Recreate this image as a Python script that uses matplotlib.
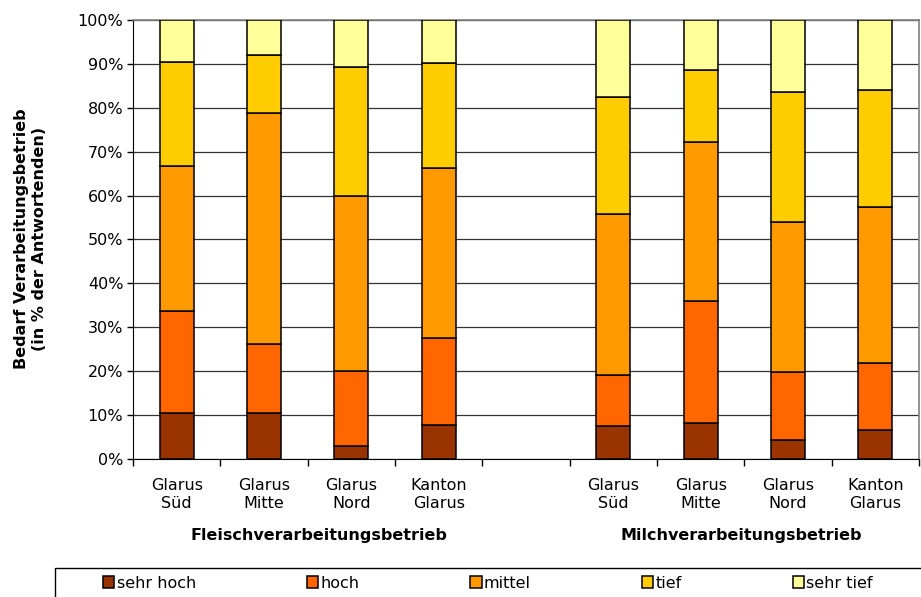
import numpy as np
import matplotlib
matplotlib.use("Agg")
import matplotlib.pyplot as plt
from matplotlib.patches import Rectangle

# Kategorien (leere Mitte trennt die zwei Gruppen)
kategorien = ["Glarus\nSüd", "Glarus\nMitte", "Glarus\nNord", "Kanton\nGlarus", "",
              "Glarus\nSüd", "Glarus\nMitte", "Glarus\nNord", "Kanton\nGlarus"]
gruppen = ["Fleischverarbeitungsbetrieb", "Milchverarbeitungsbetrieb"]

# Anteile in %
sehr_hoch = [10.5, 10.5, 3.0, 7.8, np.nan, 7.5, 8.1, 4.4, 6.5]
hoch      = [23.2, 15.8, 17.1, 19.8, np.nan, 11.6, 28.0, 15.4, 15.3]
mittel    = [33.1, 52.5, 39.9, 38.6, np.nan, 36.8, 36.2, 34.2, 35.5]
tief      = [23.6, 13.3, 29.3, 23.9, np.nan, 26.6, 16.4, 29.5, 26.7]
sehr_tief = [9.6, 7.9, 10.7, 9.9, np.nan, 17.5, 11.3, 16.5, 16.0]

serien = ["sehr hoch", "hoch", "mittel", "tief", "sehr tief"]
farben = ["#993300", "#FF6600", "#FF9900", "#FFCC00", "#FFFF99"]

plt.rcParams['font.family'] = ['DejaVu Sans']

fig = plt.figure(figsize=(9.21, 5.97), dpi=100)
ax = fig.add_axes([0.1444, 0.2312, 0.8534, 0.7353])

x = np.arange(len(kategorien))
gueltig = ~np.isnan(np.array(sehr_hoch, dtype=float))
unten = np.zeros(len(kategorien))
handles = []
for werte, name, farbe in zip([sehr_hoch, hoch, mittel, tief, sehr_tief], serien, farben):
    w = np.nan_to_num(np.array(werte, dtype=float))
    b = ax.bar(x[gueltig], w[gueltig], width=0.39, bottom=unten[gueltig], color=farbe,
               edgecolor="black", linewidth=1.1, label=name, zorder=3)
    handles.append(b)
    unten = unten + w

ax.set_xlim(-0.5, len(kategorien) - 0.5)
ax.set_ylim(0, 100)
ax.set_yticks(np.arange(0, 101, 10))
ax.set_yticklabels([f"{v}%" for v in range(0, 101, 10)], fontsize=11.5)
ax.yaxis.grid(True, color="#333333", linewidth=0.9, zorder=0)
ax.tick_params(axis="y", direction="out", length=4, width=1, pad=3)

ax.set_xticks(x)
ax.set_xticklabels(kategorien, fontsize=11.5, linespacing=1.25)
ax.tick_params(axis="x", which="major", length=0, pad=14)
ax.set_xticks(np.arange(-0.5, len(kategorien)), minor=True)
ax.tick_params(axis="x", which="minor", direction="out", length=5, width=1, color="black")

for s in ["top", "right"]:
    ax.spines[s].set_color("#808080")
    ax.spines[s].set_linewidth(1.2)
ax.spines["left"].set_color("black")
ax.spines["bottom"].set_color("black")

# Gruppenbeschriftung
ax.text(1.63, -17.5, gruppen[0], ha="center", va="center", fontsize=11.5,
        fontweight="bold", clip_on=False)
ax.text(6.46, -17.5, gruppen[1], ha="center", va="center", fontsize=11.5,
        fontweight="bold", clip_on=False)

fig.text(0.033, 0.6, "Bedarf Verarbeitungsbetrieb\n(in % der Antwortenden)",
         rotation=90, ha="center", va="center", fontsize=11.5, fontweight="bold",
         multialignment="center", linespacing=1.3)

# Legendenrahmen (läuft rechts und unten aus dem Bild)
fig.patches.append(Rectangle((55 / 921, -0.05), 0.98, 1 - 568 / 597 + 0.05,
                             transform=fig.transFigure, facecolor="white",
                             edgecolor="black", linewidth=1.0, zorder=1))
leg = fig.legend(handles=handles, labels=serien, loc="center left",
                 bbox_to_anchor=(103 / 921, 1 - 583 / 597), ncol=5, fontsize=11.5,
                 frameon=False, handlelength=0.7, handleheight=0.7,
                 handletextpad=0.15, columnspacing=6.95, borderpad=0, borderaxespad=0)

fig.savefig("out.png", dpi=100)
